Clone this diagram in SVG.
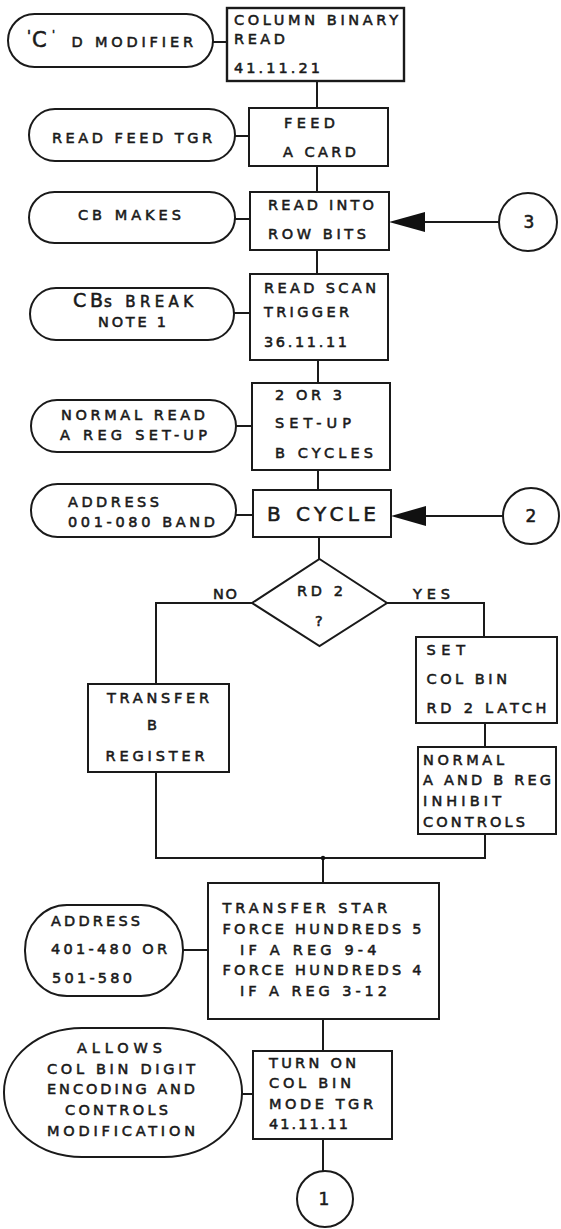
<svg xmlns="http://www.w3.org/2000/svg" width="561" height="1229" viewBox="0 0 561 1229">
<style>
.bg{fill:#ffffff}
.n{fill:#ffffff;stroke:#1a1a1a;stroke-width:2}
.c{fill:none;stroke:#1a1a1a;stroke-width:2}
.ah{fill:#111111;stroke:none}
text{font-family:"DejaVu Sans","Liberation Sans",sans-serif;font-size:14.5px;fill:#1a1a1a;stroke:#1a1a1a;stroke-width:0.55}
.big{font-size:20px}
.num{text-anchor:middle;font-size:17px}
</style>
<rect class="bg" x="0" y="0" width="561" height="1229"/>
<g id="connectors">
<line class="c" x1="213" y1="42" x2="227" y2="42"/>
<line class="c" x1="235" y1="136" x2="249" y2="136"/>
<line class="c" x1="235" y1="219" x2="250" y2="219"/>
<line class="c" x1="234" y1="313" x2="250" y2="313"/>
<line class="c" x1="236" y1="426" x2="252" y2="426"/>
<line class="c" x1="236" y1="515" x2="253" y2="515"/>
<line class="c" x1="183" y1="950" x2="208" y2="950"/>
<line class="c" x1="242" y1="1094" x2="253" y2="1094"/>
<line class="c" x1="317" y1="81" x2="317" y2="108"/>
<line class="c" x1="317" y1="166" x2="317" y2="192"/>
<line class="c" x1="317" y1="250" x2="317" y2="274"/>
<line class="c" x1="318" y1="360" x2="318" y2="383"/>
<line class="c" x1="318" y1="470" x2="318" y2="490"/>
<line class="c" x1="319" y1="537" x2="319" y2="559"/>
<polyline class="c" points="252,603 156,603 156,684"/>
<polyline class="c" points="387,603 484,603 484,637"/>
<line class="c" x1="485" y1="723" x2="485" y2="747"/>
<polyline class="c" points="156,772 156,858 485,858 485,834"/>
<line class="c" x1="323" y1="858" x2="323" y2="883"/>
<circle class="ah" cx="323" cy="858" r="2.2"/>
<line class="c" x1="323" y1="1019" x2="323" y2="1051"/>
<line class="c" x1="323" y1="1139" x2="323" y2="1171"/>
<line class="c" x1="499" y1="222" x2="420" y2="222"/>
<polygon class="ah" points="389,222 425,212 425,232"/>
<line class="c" x1="503" y1="516" x2="420" y2="516"/>
<polygon class="ah" points="391,516 426,506 426,526"/>
</g>
<g id="t-cmod">
<rect class="n" x="8" y="14" width="205" height="53" rx="26.5"/>
<text y="47"><tspan x="27" y="40">'</tspan><tspan x="32" y="47" font-size="21">C</tspan><tspan x="52" y="38" font-size="11">'</tspan><tspan x="63" y="47" textLength="130" lengthAdjust="spacing"> D MODIFIER</tspan></text>
</g>
<g id="b-colbin">
<rect class="n" x="227" y="8" width="177" height="73" style="stroke-width:2.4"/>
<text x="234" y="25" textLength="164" lengthAdjust="spacing">COLUMN BINARY</text>
<text x="234" y="44" textLength="51" lengthAdjust="spacing">READ</text>
<text x="234" y="73" textLength="86" lengthAdjust="spacing">41.11.21</text>
</g>
<g id="t-readfeed">
<rect class="n" x="29" y="109" width="206" height="52" rx="26"/>
<text x="52" y="143" textLength="160" lengthAdjust="spacing">READ FEED TGR</text>
</g>
<g id="b-feed">
<rect class="n" x="249" y="108" width="139" height="58"/>
<text x="284" y="128" textLength="51" lengthAdjust="spacing">FEED</text>
<text x="283" y="157" textLength="73" lengthAdjust="spacing">A CARD</text>
</g>
<g id="t-cbmakes">
<rect class="n" x="29" y="192" width="206" height="51" rx="25.5"/>
<text x="78" y="220" textLength="103" lengthAdjust="spacing">CB MAKES</text>
</g>
<g id="b-readinto">
<rect class="n" x="250" y="192" width="139" height="58"/>
<text x="268" y="210" textLength="106" lengthAdjust="spacing">READ INTO</text>
<text x="268" y="239" textLength="98" lengthAdjust="spacing">ROW BITS</text>
</g>
<g id="c3">
<circle class="n" cx="528" cy="222" r="29"/>
<text class="num" x="529" y="228">3</text>
</g>
<g id="t-cbsbreak">
<rect class="n" x="30" y="288" width="204" height="52" rx="26"/>
<text y="307"><tspan x="73" font-size="19" textLength="30" lengthAdjust="spacing">CB</tspan><tspan x="104" font-size="15" textLength="89" lengthAdjust="spacing">s BREAK</tspan></text>
<text x="98" y="327" textLength="68" lengthAdjust="spacing">NOTE 1</text>
</g>
<g id="b-readscan">
<rect class="n" x="250" y="274" width="138" height="86"/>
<text x="264" y="293" textLength="112" lengthAdjust="spacing">READ SCAN</text>
<text x="264" y="317" textLength="85" lengthAdjust="spacing">TRIGGER</text>
<text x="264" y="347" textLength="83" lengthAdjust="spacing">36.11.11</text>
</g>
<g id="t-normalread">
<rect class="n" x="31" y="400" width="205" height="52" rx="26"/>
<text x="61" y="420" textLength="144" lengthAdjust="spacing">NORMAL READ</text>
<text x="60" y="440" textLength="147" lengthAdjust="spacing">A REG SET-UP</text>
</g>
<g id="b-setup">
<rect class="n" x="252" y="383" width="138" height="87"/>
<text x="275" y="400" textLength="67" lengthAdjust="spacing">2 OR 3</text>
<text x="275" y="428" textLength="76" lengthAdjust="spacing">SET-UP</text>
<text x="275" y="458" textLength="98" lengthAdjust="spacing">B CYCLES</text>
</g>
<g id="t-addr001">
<rect class="n" x="31" y="484" width="205" height="53" rx="26.5"/>
<text x="68" y="507" textLength="91" lengthAdjust="spacing">ADDRESS</text>
<text x="68" y="527" textLength="147" lengthAdjust="spacing">001-080 BAND</text>
</g>
<g id="b-bcycle">
<rect class="n" x="253" y="490" width="138" height="47"/>
<text class="big" x="267" y="521" textLength="109" lengthAdjust="spacing">B CYCLE</text>
</g>
<g id="c2">
<circle class="n" cx="531" cy="516" r="28"/>
<text class="num" x="531" y="522">2</text>
</g>
<g id="d-rd2">
<polygon class="n" points="319.5,559 387,603 319.5,646 252,603"/>
<text x="297" y="596" textLength="46" lengthAdjust="spacing">RD 2</text>
<text x="315" y="626">?</text>
</g>
<g id="labels">
<text x="213" y="599" textLength="24" lengthAdjust="spacing">NO</text>
<text x="413" y="599" textLength="37" lengthAdjust="spacing">YES</text>
</g>
<g id="b-transferb">
<rect class="n" x="88" y="684" width="141" height="88"/>
<text x="107" y="703" textLength="102" lengthAdjust="spacing">TRANSFER</text>
<text x="147" y="730">B</text>
<text x="105.5" y="761" textLength="99" lengthAdjust="spacing">REGISTER</text>
</g>
<g id="b-setcolbin">
<rect class="n" x="416" y="637" width="141" height="86"/>
<text x="426.5" y="655" textLength="38.5" lengthAdjust="spacing">SET</text>
<text x="426.5" y="684" textLength="80.5" lengthAdjust="spacing">COL BIN</text>
<text x="426.5" y="713" textLength="120" lengthAdjust="spacing">RD 2 LATCH</text>
</g>
<g id="b-normalab">
<rect class="n" x="418" y="747" width="138" height="87"/>
<text x="423" y="765" textLength="81" lengthAdjust="spacing">NORMAL</text>
<text x="423" y="785" textLength="128" lengthAdjust="spacing">A AND B REG</text>
<text x="423" y="806" textLength="78" lengthAdjust="spacing">INHIBIT</text>
<text x="423" y="827" textLength="102" lengthAdjust="spacing">CONTROLS</text>
</g>
<g id="t-addr401">
<rect class="n" x="25" y="905" width="158" height="91" rx="42" ry="45"/>
<text x="51" y="926" textLength="89" lengthAdjust="spacing">ADDRESS</text>
<text x="51" y="954" textLength="116" lengthAdjust="spacing">401-480 OR</text>
<text x="52" y="983" textLength="80" lengthAdjust="spacing">501-580</text>
</g>
<g id="b-transferstar">
<rect class="n" x="208" y="883" width="231" height="136"/>
<text x="222.5" y="913" textLength="164.5" lengthAdjust="spacing">TRANSFER STAR</text>
<text x="222.5" y="934" textLength="199" lengthAdjust="spacing">FORCE HUNDREDS 5</text>
<text x="240" y="955" textLength="136.5" lengthAdjust="spacing">IF A REG 9-4</text>
<text x="222.5" y="975" textLength="199" lengthAdjust="spacing">FORCE HUNDREDS 4</text>
<text x="240" y="996" textLength="147" lengthAdjust="spacing">IF A REG 3-12</text>
</g>
<g id="t-allows">
<rect class="n" x="4" y="1028" width="238" height="129" rx="78" ry="64"/>
<text x="77" y="1053" textLength="85" lengthAdjust="spacing">ALLOWS</text>
<text x="47" y="1074" textLength="148" lengthAdjust="spacing">COL BIN DIGIT</text>
<text x="47" y="1094" textLength="148" lengthAdjust="spacing">ENCODING AND</text>
<text x="65" y="1115" textLength="103" lengthAdjust="spacing">CONTROLS</text>
<text x="47" y="1136" textLength="148" lengthAdjust="spacing">MODIFICATION</text>
</g>
<g id="b-turnon">
<rect class="n" x="253" y="1051" width="139" height="88"/>
<text x="269" y="1068" textLength="87" lengthAdjust="spacing">TURN ON</text>
<text x="269" y="1088" textLength="82" lengthAdjust="spacing">COL BIN</text>
<text x="269" y="1109" textLength="104" lengthAdjust="spacing">MODE TGR</text>
<text x="269" y="1129" textLength="79" lengthAdjust="spacing">41.11.11</text>
</g>
<g id="c1">
<circle class="n" cx="325" cy="1199" r="28"/>
<text class="num" x="324" y="1205">1</text>
</g>
</svg>
